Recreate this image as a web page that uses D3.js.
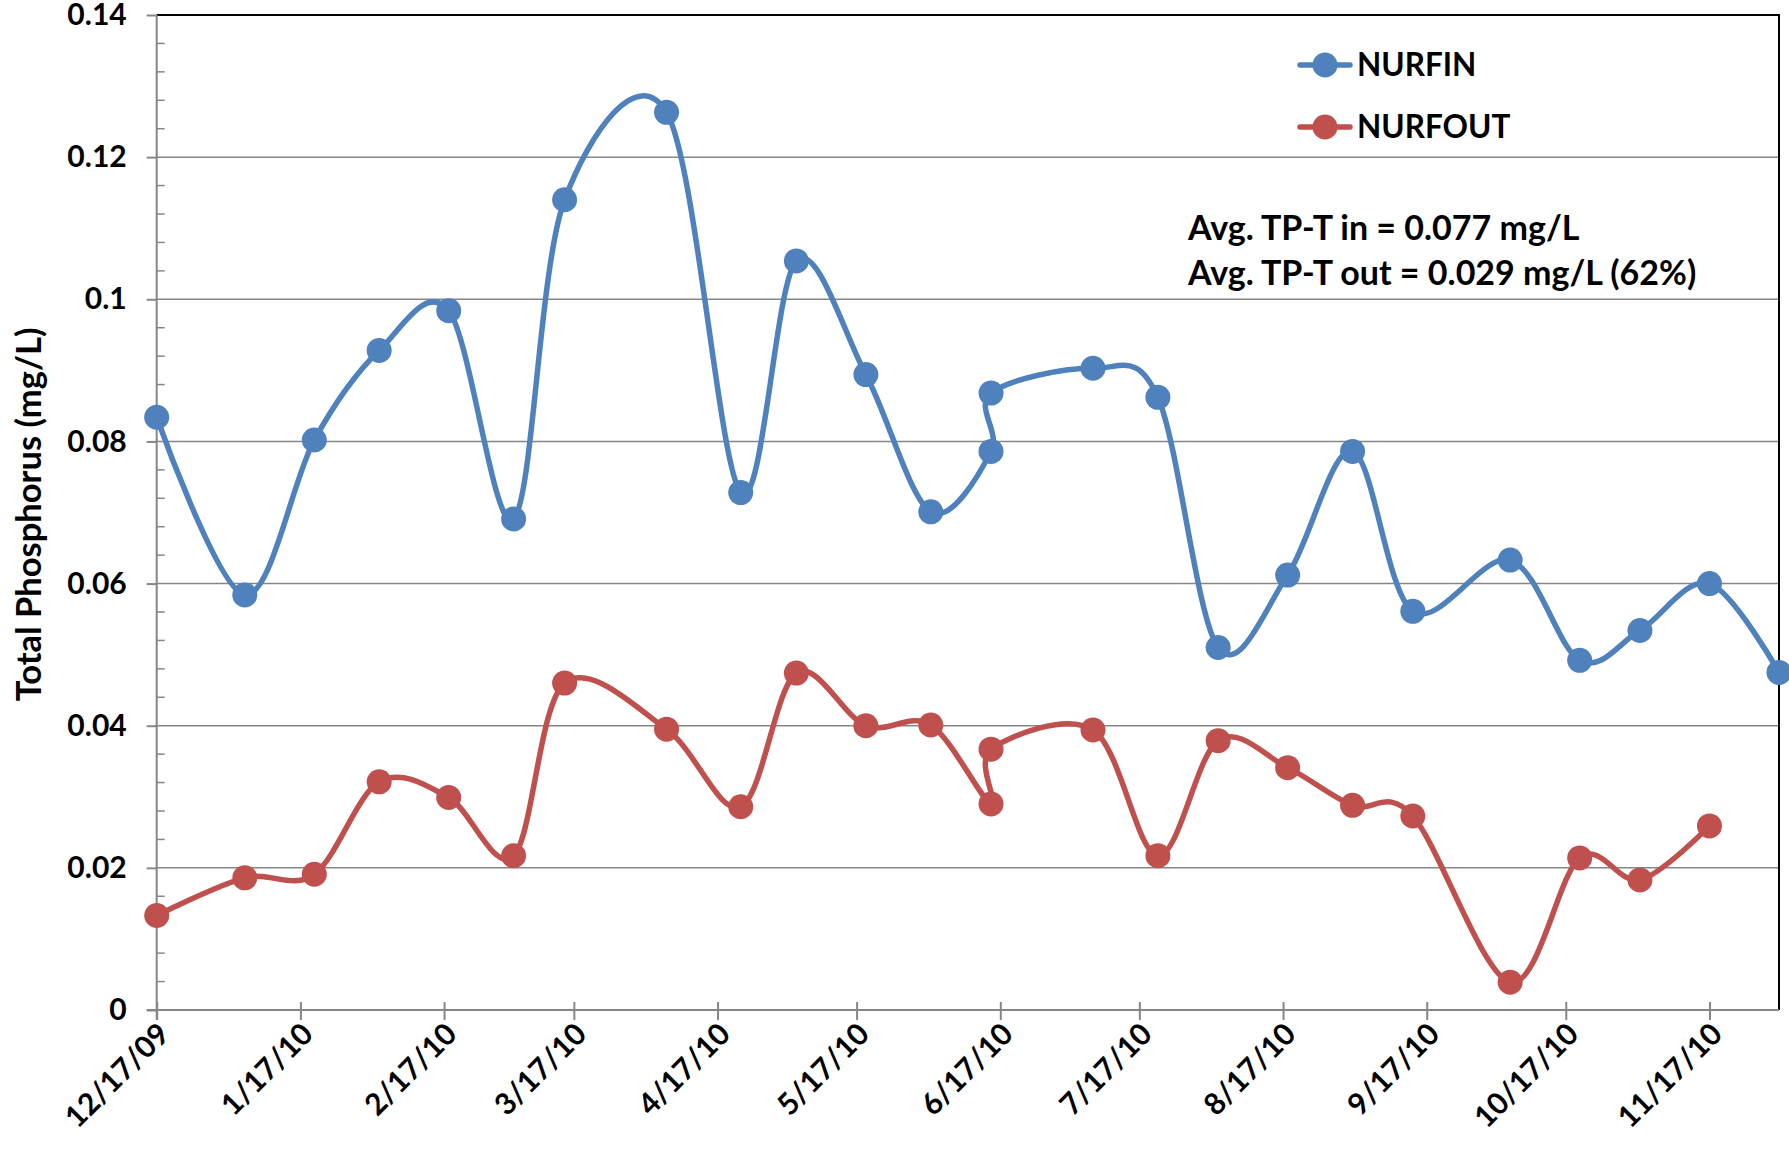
<!DOCTYPE html>
<html>
<head>
<meta charset="utf-8">
<script src="https://cdn.jsdelivr.net/npm/d3@7"></script>
<style>
    html, body { margin: 0; padding: 0; background: #ffffff; }
    text { font-family: Lato, "Noto Sans", sans-serif; font-weight: 700; fill: #000000; }
</style>
</head>
<body>
<svg id="chart"></svg>
<script>
// sample dates (two samples were taken on 6/15/10)
const sampleDates = [
    '12/17/2009', '01/05/2010', '01/20/2010', '02/03/2010', '02/18/2010',
    '03/04/2010', '03/15/2010', '04/06/2010', '04/22/2010', '05/04/2010',
    '05/19/2010', '06/02/2010', '06/15/2010', '06/15/2010', '07/07/2010',
    '07/21/2010', '08/03/2010', '08/18/2010', '09/01/2010', '09/14/2010',
    '10/05/2010', '10/20/2010', '11/02/2010', '11/17/2010', '12/02/2010'
];

const nurfIn = [
    0.0834, 0.0584, 0.0802, 0.0928, 0.0984,
    0.0691, 0.1140, 0.1263, 0.0728, 0.1054,
    0.0894, 0.0701, 0.0786, 0.0868, 0.0903,
    0.0862, 0.0510, 0.0612, 0.0786, 0.0561,
    0.0633, 0.0492, 0.0534, 0.0600, 0.0475
];

const nurfOut = [
    0.0133, 0.0186, 0.0191, 0.0321, 0.0299,
    0.0217, 0.0460, 0.0395, 0.0286, 0.0474,
    0.0400, 0.0401, 0.0290, 0.0367, 0.0394,
    0.0217, 0.0379, 0.0341, 0.0288, 0.0273,
    0.0039, 0.0214, 0.0183, 0.0259, null
];

const seriesNames = ['NURFIN', 'NURFOUT'];
const seriesColors = ['#4F81BD', '#C0504D'];

const xTickLabels = [
    '12/17/09', '1/17/10', '2/17/10', '3/17/10', '4/17/10', '5/17/10',
    '6/17/10', '7/17/10', '8/17/10', '9/17/10', '10/17/10', '11/17/10'
];
const yTicks = [0, 0.02, 0.04, 0.06, 0.08, 0.1, 0.12, 0.14];
const yTickLabels = ['0', '0.02', '0.04', '0.06', '0.08', '0.1', '0.12', '0.14'];

const notes = [
    'Avg. TP-T in = 0.077 mg/L',
    'Avg. TP-T out = 0.029 mg/L (62%)'
];

class Chart {
    constructor (selector) {
        this.w = 1789;
        this.h = 1157;
        this.plot = { left: 156.7, right: 1779, top: 15, bottom: 1010 };

        this.svg = d3.select(selector)
            .attr('width', this.w)
            .attr('height', this.h);

        let parse = d3.utcParse('%m/%d/%Y');
        this.dates = sampleDates.map((d) => { return parse(d); });
        this.tickDates = xTickLabels.map((d) => { return d3.utcParse('%m/%d/%y')(d); });

        this.x = d3.scaleUtc()
            .domain([this.dates[0], this.dates[this.dates.length - 1]])
            .range([this.plot.left, this.plot.right]);

        this.y = d3.scaleLinear()
            .domain([0, 0.14])
            .range([this.plot.bottom, this.plot.top]);
    }
    draw () {
        this.drawGrid();
        this.drawAxes();
        this.drawSeries(nurfIn, seriesColors[0]);
        this.drawSeries(nurfOut, seriesColors[1]);
        this.drawLegend();
        this.drawNotes();
    }
    drawGrid () {
        let p = this.plot;
        let svg = this.svg;

        svg.append('g')
            .attr('class', 'grid')
            .selectAll('line')
            .data(yTicks.slice(1, -1))
            .enter()
            .append('line')
            .attr('x1', p.left)
            .attr('x2', p.right)
            .attr('y1', (d) => { return this.y(d); })
            .attr('y2', (d) => { return this.y(d); })
            .attr('stroke', '#868686')
            .attr('stroke-width', 1.5);

        // plot area border on top and right
        svg.append('path')
            .attr('d', `M${p.left},${this.y(0.14)}H${p.right}V${p.bottom}`)
            .attr('fill', 'none')
            .attr('stroke', '#000000')
            .attr('stroke-width', 2);
    }
    drawAxes () {
        let p = this.plot;
        let svg = this.svg;

        // y axis: major ticks outside, minor ticks inside
        let yAxis = svg.append('g')
            .attr('transform', `translate(${p.left},0)`)
            .call(d3.axisLeft(this.y)
                  .tickValues(yTicks)
                  .tickFormat((d, i) => { return yTickLabels[i]; })
                  .tickSize(10)
                  .tickPadding(20));
        yAxis.select('.domain').remove();
        yAxis.selectAll('line').attr('stroke', '#868686').attr('stroke-width', 2);
        yAxis.selectAll('text')
            .attr('font-size', 30)
            .attr('fill', '#000000')
            .attr('font-family', null);

        let minor = d3.range(0, 0.1401, 0.004)
            .filter((d) => { return Math.abs(d / 0.02 - Math.round(d / 0.02)) > 0.01; });
        svg.append('g')
            .selectAll('line')
            .data(minor)
            .enter()
            .append('line')
            .attr('x1', p.left)
            .attr('x2', p.left + 8)
            .attr('y1', (d) => { return this.y(d); })
            .attr('y2', (d) => { return this.y(d); })
            .attr('stroke', '#868686')
            .attr('stroke-width', 1.5);

        svg.append('line')
            .attr('x1', p.left)
            .attr('x2', p.left)
            .attr('y1', p.top)
            .attr('y2', p.bottom + 10)
            .attr('stroke', '#868686')
            .attr('stroke-width', 2);

        // x axis: ticks cross the line
        let xAxis = svg.append('g')
            .attr('transform', `translate(0,${p.bottom})`)
            .call(d3.axisBottom(this.x)
                  .tickValues(this.tickDates)
                  .tickFormat((d, i) => { return xTickLabels[i]; })
                  .tickSizeInner(10)
                  .tickSizeOuter(0));
        xAxis.select('.domain').remove();
        xAxis.selectAll('line')
            .attr('y1', -8)
            .attr('stroke', '#868686')
            .attr('stroke-width', 2);
        xAxis.selectAll('text')
            .attr('font-size', 30)
            .attr('fill', '#000000')
            .attr('font-family', null)
            .attr('text-anchor', 'end')
            .attr('dy', null)
            .attr('transform', 'translate(14,26) rotate(-45)')
            .attr('y', 0)
            .attr('x', 0);

        svg.append('line')
            .attr('x1', p.left - 10)
            .attr('x2', p.right)
            .attr('y1', p.bottom)
            .attr('y2', p.bottom)
            .attr('stroke', '#868686')
            .attr('stroke-width', 2);

        svg.append('text')
            .attr('transform', `translate(41,${(p.top + p.bottom) / 2 + 2}) rotate(-90)`)
            .attr('text-anchor', 'middle')
            .attr('font-size', 34.5)
            .text('Total Phosphorus (mg/L)');
    }
    drawSeries (values, color) {
        let points = [];
        values.forEach((v, i) => {
            if (v !== null)
                points.push({ date: this.dates[i], value: v });
        });

        let line = d3.line()
            .x((d) => { return this.x(d.date); })
            .y((d) => { return this.y(d.value); })
            .curve(d3.curveCardinal.tension(0));

        let g = this.svg.append('g');

        g.append('path')
            .datum(points)
            .attr('d', line)
            .attr('fill', 'none')
            .attr('stroke', color)
            .attr('stroke-width', 5.5)
            .attr('stroke-linejoin', 'round');

        g.selectAll('circle')
            .data(points)
            .enter()
            .append('circle')
            .attr('cx', (d) => { return this.x(d.date); })
            .attr('cy', (d) => { return this.y(d.value); })
            .attr('r', 12.5)
            .attr('fill', color);
    }
    drawLegend () {
        let g = this.svg.append('g')
            .attr('transform', 'translate(1300,0)');

        let rows = g.selectAll('g.row')
            .data(seriesNames)
            .enter()
            .append('g')
            .attr('class', 'row')
            .attr('transform', (d, i) => { return `translate(0,${65 + i * 62})`; });

        rows.append('line')
            .attr('x1', 0)
            .attr('x2', 50)
            .attr('stroke', (d, i) => { return seriesColors[i]; })
            .attr('stroke-width', 5.5)
            .attr('stroke-linecap', 'round');

        rows.append('circle')
            .attr('cx', 25)
            .attr('r', 12.5)
            .attr('fill', (d, i) => { return seriesColors[i]; });

        rows.append('text')
            .attr('x', 57)
            .attr('y', 11)
            .attr('font-size', 31.5)
            .text((d) => { return d; });
    }
    drawNotes () {
        this.svg.append('g')
            .selectAll('text')
            .data(notes)
            .enter()
            .append('text')
            .attr('x', 1188)
            .attr('y', (d, i) => { return 240 + i * 45; })
            .attr('font-size', 34)
            .text((d) => { return d; });
    }
}

new Chart('#chart').draw();
</script>
</body>
</html>
